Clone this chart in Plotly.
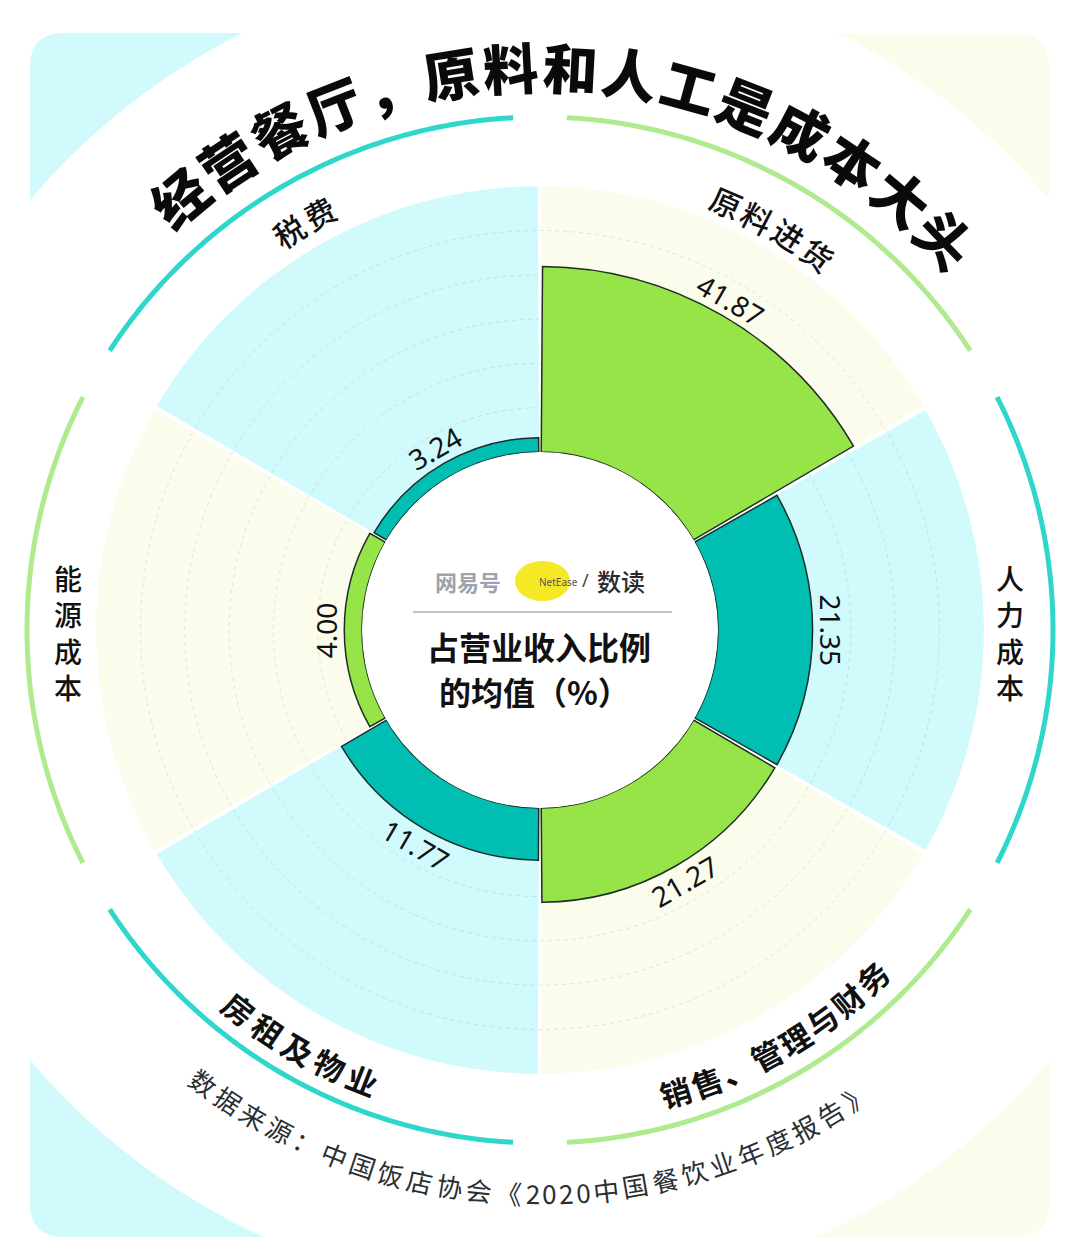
import math
import plotly.graph_objects as go

# ---------------- data ----------------
categories = ["原料进货", "人力成本", "销售、管理与财务", "房租及物业", "能源成本", "税费"]
values = [41.87, 21.35, 21.27, 11.77, 4.00, 3.24]
sector_theta = [30, 90, 150, 210, 270, 330]
radial_ticks = [10, 20, 30, 40, 50]
background_extent = 60
title_text = "经营餐厅，原料和人工是成本大头"
center_lines = ["占营业收入比例", "的均值（%）"]
source_text = "数据来源：中国饭店协会《2020中国餐饮业年度报告》"

# ---------------- style ----------------
GREEN, TEAL = "#96e448", "#00beb2"
CYAN, CREAM = "#d0fafc", "#fbfcec"
ARC_TEAL, ARC_GREEN = "#2fd6cc", "#aeea8e"
bar_colors = [GREEN, TEAL, GREEN, TEAL, GREEN, TEAL]
bg_colors = [CREAM, CYAN, CREAM, CYAN, CREAM, CYAN]
arc_colors = [ARC_GREEN, ARC_TEAL, ARC_GREEN, ARC_TEAL, ARC_GREEN, ARC_TEAL]
# label layout: (mode, radius_px, step, bold)
label_layout = [
    ("top", 467, 4.35, False),
    ("side", 470, 0, False),
    ("bottom", 481, 3.91, True),
    ("bottom", 483, 4.22, True),
    ("side", 472, 0, False),
    ("top", 472, 4.3, False),
]

W, H = 1080, 1240
CX, CY = 540, 630
S = 530            # polar half size in px
HOLE_PX = 178
PX_PER_UNIT = 4.43
RMAX = (S - HOLE_PX) / PX_PER_UNIT
ARC_PX = 513
CJK = "Noto Sans CJK SC"


def pt(radius_px, deg):
    a = math.radians(deg)
    return CX + radius_px * math.sin(a), CY - radius_px * math.cos(a)


def norm(deg):
    return (deg + 180) % 360 - 180


fig = go.Figure()

# dummy cartesian trace so shapes/annotations can use pixel coordinates
fig.add_trace(go.Scatter(x=[0, W], y=[0, H], mode="markers",
                         marker=dict(opacity=0), hoverinfo="skip", showlegend=False))

# background sectors
fig.add_trace(go.Barpolar(
    r=[background_extent] * len(categories), theta=sector_theta, width=[59.4] * 6,
    marker=dict(color=bg_colors, line=dict(width=0)),
    subplot="polar", hoverinfo="skip", showlegend=False))

# outer arcs
arc_r = (ARC_PX - HOLE_PX) / PX_PER_UNIT
for th, col in zip(sector_theta, arc_colors):
    ts = [th - 27 + i * 0.5 for i in range(109)]
    fig.add_trace(go.Scatterpolar(r=[arc_r] * len(ts), theta=ts, mode="lines",
                                  line=dict(color=col, width=5),
                                  subplot="polar", hoverinfo="skip", showlegend=False))

# data bars
fig.add_trace(go.Barpolar(
    r=values, theta=sector_theta, width=[59.2] * 6,
    marker=dict(color=bar_colors, line=dict(color="#1d2e28", width=1.5)),
    subplot="polar2", showlegend=False, hovertext=categories))

dom = dict(x=[(CX - S) / W, (CX + S) / W], y=[1 - (CY + S) / H, 1 - (CY - S) / H])


def polar_cfg(grid):
    return dict(
        domain=dom, hole=HOLE_PX / S, bgcolor="rgba(0,0,0,0)",
        radialaxis=dict(range=[0, RMAX], showticklabels=False, ticks="", showline=False,
                        tickvals=radial_ticks, showgrid=grid,
                        gridcolor="rgba(110,170,160,0.25)", griddash="4px,4px", gridwidth=1),
        angularaxis=dict(direction="clockwise", rotation=90, showgrid=False,
                         showline=False, showticklabels=False, ticks=""),
    )


shapes = []
# corner panels
x0, y0, x1, y1, rr = 30, 33, 1049, 1237, 34
shapes.append(dict(type="path", layer="below", fillcolor=CYAN, line=dict(width=0),
                   path=f"M {x0},{y0+rr} Q {x0},{y0} {x0+rr},{y0} L {CX},{y0} L {CX},{CY} L {x0},{CY} Z"))
shapes.append(dict(type="path", layer="below", fillcolor=CREAM, line=dict(width=0),
                   path=f"M {CX},{y0} L {x1-rr},{y0} Q {x1},{y0} {x1},{y0+rr} L {x1},{CY} L {CX},{CY} Z"))
shapes.append(dict(type="path", layer="below", fillcolor=CYAN, line=dict(width=0),
                   path=f"M {x0},{CY} L {CX},{CY} L {CX},{y1} L {x0+rr},{y1} Q {x0},{y1} {x0},{y1-rr} Z"))
shapes.append(dict(type="path", layer="below", fillcolor=CREAM, line=dict(width=0),
                   path=f"M {CX},{CY} L {x1},{CY} L {x1},{y1-rr} Q {x1},{y1} {x1-rr},{y1} L {CX},{y1} Z"))
RW = 667
shapes.append(dict(type="circle", layer="below", fillcolor="white", line=dict(width=0),
                   x0=CX - RW, x1=CX + RW, y0=CY - RW, y1=CY + RW))
# logo blob + divider
shapes.append(dict(type="circle", layer="above", fillcolor="#f4e60d", line=dict(width=0),
                   x0=515, x1=570, y0=561, y1=601, opacity=0.9))
shapes.append(dict(type="line", layer="above", x0=413, x1=672, y0=612, y1=612,
                   line=dict(color="#7f8c99", width=1)))

ann = []


def add_text(x, y, text, size, color="#111", family=CJK, angle=0, weight=400):
    ann.append(dict(x=x, y=y, xref="x", yref="y", text=text, showarrow=False,
                    xanchor="center", yanchor="middle", textangle=angle, align="center",
                    font=dict(family=family, size=size, color=color, weight=weight)))


def curved(text, radius, center_deg, step_deg, size, outward=True, weight=400,
           color="#111", widths=None):
    w = widths or [1.0] * len(text)
    pos, acc = [], 0.0
    for i, wi in enumerate(w):
        if i > 0:
            acc += (w[i - 1] + wi) / 2
        pos.append(acc)
    total = pos[-1]
    for ch, p in zip(text, pos):
        off = (p - total / 2) * step_deg
        th = center_deg + off if outward else center_deg - off
        x, y = pt(radius, th)
        ang = norm(th) if outward else norm(th - 180)
        add_text(x, y, ch, size, color=color, angle=ang, weight=weight)


# title
curved(title_text, 565, 3.1, 6.13, 55, outward=True, weight=900, color="#0a0a0a")

# category labels
for cat, th, (mode, rad, step, bold) in zip(categories, sector_theta, label_layout):
    wgt = 700 if bold else 500
    if mode == "side":
        x, y = pt(rad, th)
        add_text(x, y + 2, "<br>".join(cat), 28, weight=wgt)
    else:
        curved(cat, rad, th, step, 31, outward=(mode == "top"), weight=wgt)

# value labels
for v, th in zip(values, sector_theta):
    rad = HOLE_PX + v * PX_PER_UNIT + 18
    x, y = pt(rad, th)
    ang = norm(th) if (th <= 90 or th >= 270) else norm(th - 180)
    add_text(x, y, f"{v:.2f}", 28, family="Noto Sans", angle=ang, color="#111")

# source
src_w = [0.56 if c.isdigit() else 1.0 for c in source_text]
curved(source_text, 563, 181.25, 3.042, 26, outward=False, weight=400,
       color="#2a2f33", widths=src_w)

# center text
add_text(539, 646, center_lines[0], 32, weight=700)
add_text(534, 691, center_lines[1], 32, weight=700)
# logo text
add_text(468, 581, "网易号", 22, color="rgba(70,80,110,0.55)", weight=700)
add_text(558, 582, "NetEase", 10, color="#555", family="Noto Sans")
add_text(585, 580, "/", 18, color="#444", family="Noto Sans")
add_text(621, 580, "数读", 24, color="#2b2b2b", weight=500)

fig.update_layout(
    width=W, height=H, margin=dict(l=0, r=0, t=0, b=0),
    paper_bgcolor="white", plot_bgcolor="white", showlegend=False,
    xaxis=dict(range=[0, W], visible=False, domain=[0, 1], fixedrange=True),
    yaxis=dict(range=[H, 0], visible=False, domain=[0, 1], fixedrange=True),
    polar=polar_cfg(False), polar2=polar_cfg(True),
    shapes=shapes, annotations=ann,
)

fig.write_html("out.html", config={"displayModeBar": False},
               post_script="document.body.style.margin='0px';")
